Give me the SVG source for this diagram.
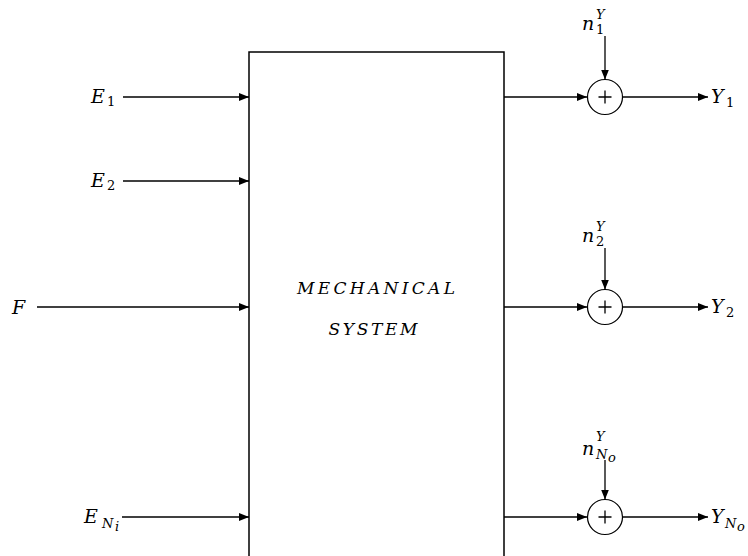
<svg xmlns="http://www.w3.org/2000/svg" width="748" height="556" viewBox="0 0 748 556">
<style>
.ln{stroke:#000;stroke-width:1.3;fill:none}
.box{stroke:#000;stroke-width:1.5;fill:#fff}
.sum{stroke:#000;stroke-width:1.2;fill:#fff}
.t{font-family:"DejaVu Serif","Liberation Serif",serif;font-style:italic;font-size:19px;fill:#000}
.s{font-family:"DejaVu Serif","Liberation Serif",serif;font-style:italic;font-size:13px;fill:#000}
.n{font-family:"DejaVu Serif","Liberation Serif",serif;font-size:13px;fill:#000}
.m{font-family:"DejaVu Serif","Liberation Serif",serif;font-style:italic;font-size:17px;fill:#000}
</style>
<defs>
<marker id="ah" markerWidth="10" markerHeight="8" refX="10" refY="4" orient="auto" markerUnits="userSpaceOnUse">
<path d="M0,0 L10,4 L0,8 Z" fill="#000"/>
</marker>
</defs>
<rect width="748" height="556" fill="#fff"/>
<g id="system">
<path class="box" d="M249,560 L249,52 L504,52 L504,560"/>
<text class="m" x="376" y="294" text-anchor="middle" textLength="158" lengthAdjust="spacing">MECHANICAL</text>
<text class="m" x="373" y="335" text-anchor="middle" textLength="89" lengthAdjust="spacing">SYSTEM</text>
</g>
<g id="sum1">
<circle class="sum" cx="605" cy="97" r="17.5"/>
<path class="ln" d="M598.5,97 H611.5 M605,90.5 V103.5" stroke-width="1"/>
</g>
<g id="sum2">
<circle class="sum" cx="605" cy="307" r="17.5"/>
<path class="ln" d="M598.5,307 H611.5 M605,300.5 V313.5" stroke-width="1"/>
</g>
<g id="sum3">
<circle class="sum" cx="605" cy="517" r="17.5"/>
<path class="ln" d="M598.5,517 H611.5 M605,510.5 V523.5" stroke-width="1"/>
</g>
<g id="labels">
<text class="t" x="91" y="103">E</text><text class="n" x="107" y="106">1</text>
<text class="t" x="91" y="187">E</text><text class="n" x="107" y="190">2</text>
<text class="t" x="12" y="314">F</text>
<text class="t" x="84" y="523">E</text><text class="s" x="102" y="528">N</text><text class="s" x="115" y="531" font-size="10">i</text>
<text class="t" x="582" y="30">n</text><text class="s" x="596" y="19" font-size="11">Y</text><text class="n" x="596" y="34" font-size="12">1</text>
<text class="t" x="582" y="242">n</text><text class="s" x="596" y="231" font-size="11">Y</text><text class="n" x="596" y="246" font-size="12">2</text>
<text class="t" x="582" y="455">n</text><text class="s" x="596" y="441" font-size="11">Y</text><text class="s" x="596" y="459" font-size="12">N</text><text class="s" x="608" y="462" font-size="10">o</text>
<text class="t" x="711" y="103">Y</text><text class="n" x="726" y="107">1</text>
<text class="t" x="711" y="313">Y</text><text class="n" x="726" y="317">2</text>
<text class="t" x="711" y="523">Y</text><text class="s" x="725" y="528">N</text><text class="s" x="737" y="531" font-size="10">o</text>
</g>
<g id="connectors">
<path class="ln" d="M123,97 H249" marker-end="url(#ah)"/>
<path class="ln" d="M123,181 H249" marker-end="url(#ah)"/>
<path class="ln" d="M37,307 H249" marker-end="url(#ah)"/>
<path class="ln" d="M122,517 H249" marker-end="url(#ah)"/>
<path class="ln" d="M504,97 H587" marker-end="url(#ah)"/>
<path class="ln" d="M504,307 H587" marker-end="url(#ah)"/>
<path class="ln" d="M504,517 H587" marker-end="url(#ah)"/>
<path class="ln" d="M622.5,97 H708" marker-end="url(#ah)"/>
<path class="ln" d="M622.5,307 H708" marker-end="url(#ah)"/>
<path class="ln" d="M622.5,517 H708" marker-end="url(#ah)"/>
<path class="ln" d="M605,36 V79.5" marker-end="url(#ah)"/>
<path class="ln" d="M605,248 V289.5" marker-end="url(#ah)"/>
<path class="ln" d="M605,460 V499.5" marker-end="url(#ah)"/>
</g>
</svg>
